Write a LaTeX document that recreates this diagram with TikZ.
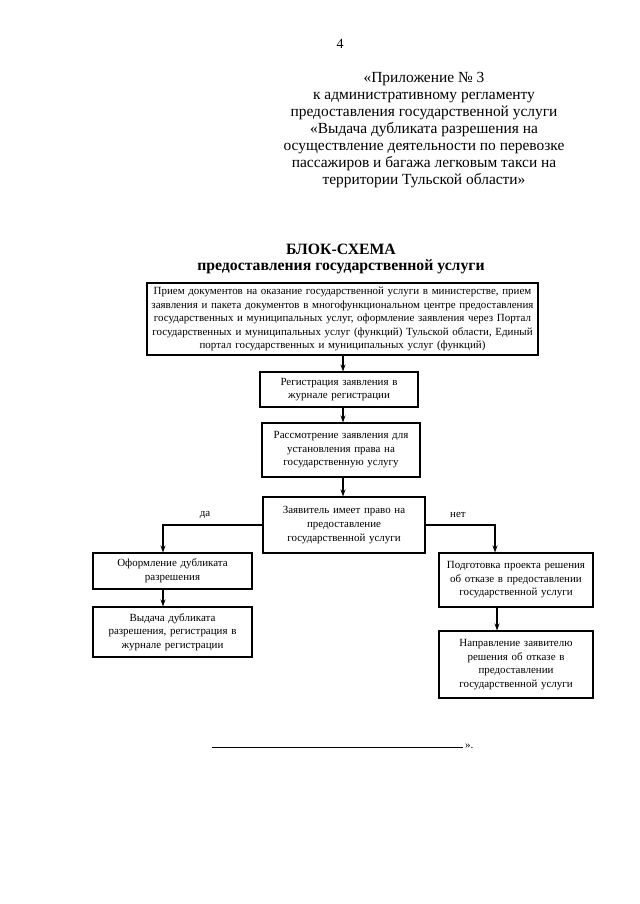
\documentclass[tikz,border=0pt]{standalone}
\usepackage{fontspec}
\setmainfont{Liberation Serif}
\usetikzlibrary{arrows.meta,calc}
\tikzset{
  box/.style={draw, line width=1.1bp, align=center, inner sep=0pt,
    font=\fontsize{11}{13.6}\selectfont},
  arr/.style={line width=1.1bp, -{Stealth[length=7bp,width=5bp]}},
  lbl/.style={inner sep=0pt, font=\fontsize{11}{13}\selectfont},
}
\begin{document}
\begin{tikzpicture}[x=1bp,y=-1bp]
\fill[white] (0,0) rectangle (640,904);
\useasboundingbox (0,0) rectangle (640,904);

\node[lbl, font=\fontsize{14}{16}\selectfont] (pg) at (340,44) {4};

\node[inner sep=0pt, align=center, font=\fontsize{15.5}{17}\selectfont] (hdr) at (424,130)
 {«Приложение № 3\\
  к административному регламенту\\
  предоставления государственной услуги\\
  «Выдача дубликата разрешения на\\
  осуществление деятельности по перевозке\\
  пассажиров и багажа легковым такси на\\
  территории Тульской области»};

\node[inner sep=0pt, align=center, font=\fontsize{15.8}{16.5}\selectfont\bfseries] (ttl) at (341,259)
 {БЛОК-СХЕМА\\ предоставления государственной услуги};

\node[box, minimum width=391bp, minimum height=72bp, text width=385bp] (b1) at (342.5,319)
 {Прием документов на оказание государственной услуги в министерстве, прием\\
  заявления и пакета документов в многофункциональном центре предоставления\\
  государственных и муниципальных услуг, оформление заявления через Портал\\
  государственных и муниципальных услуг (функций) Тульской области, Единый\\
  портал государственных и муниципальных услуг (функций)};

\node[box, minimum width=158bp, minimum height=35bp, text width=152bp] (b2) at (339,389.5)
 {Регистрация заявления в\\ журнале регистрации};

\node[box, minimum width=158bp, minimum height=54bp, text width=152bp] (b3) at (341,450)
 {Рассмотрение заявления для\\ установления права на\\ государственную услугу};

\node[box, minimum width=162bp, minimum height=56bp, text width=156bp] (b4) at (344,525)
 {Заявитель имеет право на\\ предоставление\\ государственной услуги};

\node[box, minimum width=159bp, minimum height=36bp, text width=153bp] (b5) at (172.5,571)
 {Оформление дубликата\\ разрешения};

\node[box, minimum width=159bp, minimum height=50bp, text width=153bp] (b6) at (172.5,632)
 {Выдача дубликата\\ разрешения, регистрация в\\ журнале регистрации};

\node[box, minimum width=154bp, minimum height=54bp, text width=148bp] (b7) at (516,580)
 {Подготовка проекта решения\\ об отказе в предоставлении\\ государственной услуги};

\node[box, minimum width=154bp, minimum height=67bp, text width=148bp] (b8) at (516,664.5)
 {Направление заявителю\\ решения об отказе в\\ предоставлении\\ государственной услуги};

\draw[arr] ([xshift=0.5bp]b1.south) -- ([xshift=0.5bp]b1.south |- b2.north);
\draw[arr] ([xshift=4bp]b2.south) -- ([xshift=4bp]b2.south |- b3.north);
\draw[arr] ([xshift=2bp]b3.south) -- ([xshift=2bp]b3.south |- b4.north);
\draw[arr] (b4.west) -| ([xshift=-9.5bp]b5.north);
\draw[arr] (b4.east) -| ([xshift=-21bp]b7.north);
\draw[arr] ([xshift=-9.5bp]b5.south) -- ([xshift=-9.5bp]b6.north);
\draw[arr] ([xshift=-19bp]b7.south) -- ([xshift=-19bp]b8.north);

\node[lbl] (da) at (205,515) {да};
\node[lbl] (net) at (458,515) {нет};

\coordinate (ul) at (212,747);
\coordinate (ur) at (463,747);
\draw[line width=0.9bp] (ul) -- (ur);
\node[lbl, anchor=south west] (end) at (465,749) {».};
\end{tikzpicture}
\end{document}
